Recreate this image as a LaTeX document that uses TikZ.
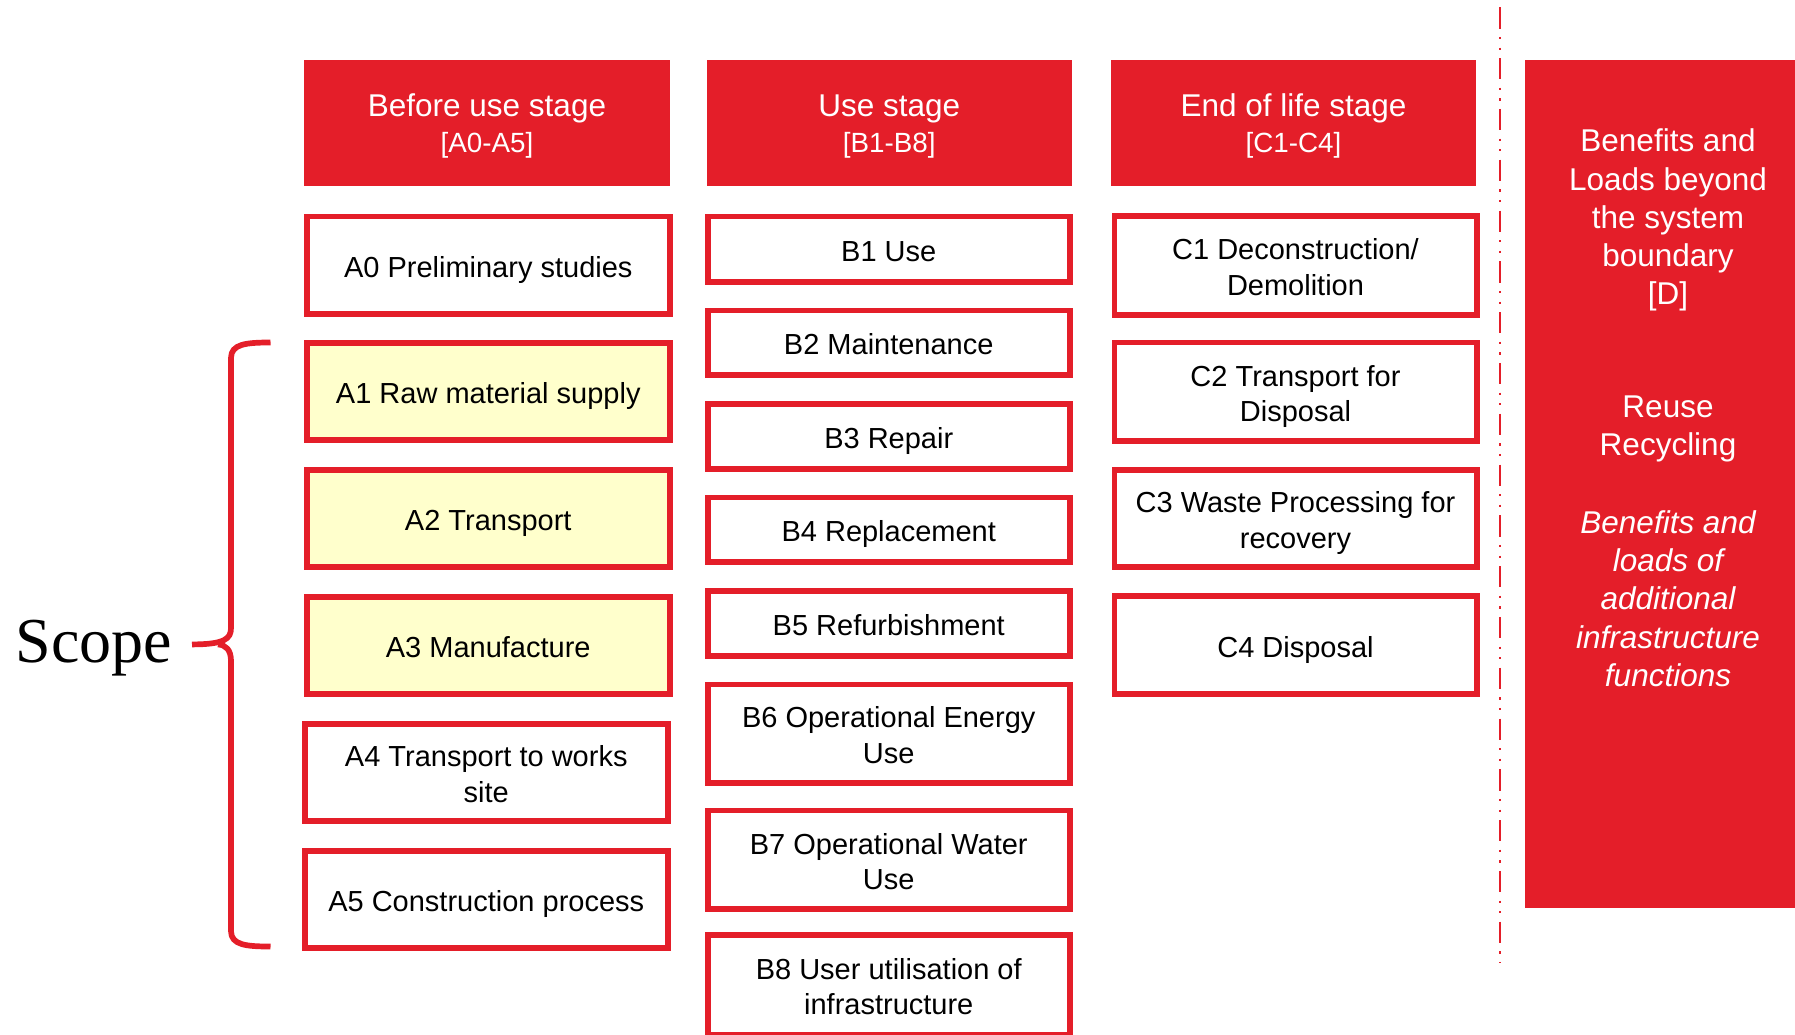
\documentclass[tikz,border=0pt]{standalone}
\usepackage{fontspec}
\setmainfont{Liberation Sans}
\newfontfamily\scopefont{Liberation Serif}
\definecolor{lcared}{RGB}{228,30,41}
\definecolor{lcayellow}{RGB}{255,255,204}
% fixed line struts so every label sits on the same baseline grid
\newcommand\headtopstrut{\rule{0pt}{30.1pt}}
\newcommand\itemtopstrut{\rule{0pt}{31.2pt}}
\newcommand\lowstrut{\rule[-7pt]{0pt}{7pt}}
\begin{document}
\begin{tikzpicture}[x=1pt,y=-1pt]
\tikzset{
  stagehead/.style={fill=lcared, draw=none, text=white, inner sep=0pt, align=center,
    minimum height=126.5pt, font={\fontsize{31.5}{35.4}\selectfont}},
  item/.style={draw=lcared, line width=5.7pt, fill=white, text=black, inner sep=0pt,
    align=center, font={\fontsize{29}{35.5}\selectfont},
    execute at begin node=\itemtopstrut, execute at end node=\lowstrut},
  inscope/.style={item, fill=lcayellow},
  acol/.style={minimum width=362.8pt},
  bcol/.style={minimum width=361.8pt},
  ccol/.style={minimum width=362.3pt},
  dtext/.style={text=white, inner sep=0pt, align=center, font={\fontsize{31.5}{38.3}\selectfont}},
  brace/.style={draw=lcared, line width=5.7pt, line join=round},
  boundary/.style={draw=lcared, line width=2.3pt,
    dash pattern=on 21.3pt off 8.3pt on 2.3pt off 8.3pt on 2.3pt off 8.3pt}
}
\useasboundingbox (0,0) rectangle (1795,1034);
\clip (0,0) rectangle (1795,1034);

% stage headers
\node[stagehead, minimum width=366pt] (hA) at (487,122.75)
  {\headtopstrut Before use stage\\{\fontsize{27.8}{35.4}\selectfont [A0-A5]\lowstrut}};
\node[stagehead, minimum width=364.5pt] (hB) at (889.25,122.75)
  {\headtopstrut Use stage\\{\fontsize{27.8}{35.4}\selectfont [B1-B8]\lowstrut}};
\node[stagehead, minimum width=365pt] (hC) at (1293.5,122.75)
  {\headtopstrut End of life stage\\{\fontsize{27.8}{35.4}\selectfont [C1-C4]\lowstrut}};

% before use stage modules
\node[item, acol, minimum height=97.3pt] (a0) at (488.25,265) {A0 Preliminary studies};
\node[inscope, acol, minimum height=97.3pt] (a1) at (488.25,391.5) {A1 Raw material supply};
\node[inscope, acol, minimum height=97.3pt] (a2) at (488.25,518.5) {A2 Transport};
\node[inscope, acol, minimum height=97.3pt] (a3) at (488.25,645.5) {A3 Manufacture};
\node[item, acol, minimum height=97.3pt] (a4) at (486.25,772.5)
  {\itemtopstrut A4 Transport to works\\site\lowstrut};
\node[item, acol, minimum height=97.3pt] (a5) at (486.25,899.5) {A5 Construction process};

% use stage modules
\node[item, bcol, minimum height=65.3pt] (b1) at (888.75,249) {B1 Use};
\node[item, bcol, minimum height=64.8pt] (b2) at (888.75,342.75) {B2 Maintenance};
\node[item, bcol, minimum height=65.3pt] (b3) at (888.75,436.5) {B3 Repair};
\node[item, bcol, minimum height=64.8pt] (b4) at (888.75,529.75) {B4 Replacement};
\node[item, bcol, minimum height=65.3pt] (b5) at (888.75,623.5) {B5 Refurbishment};
\node[item, bcol, minimum height=98.3pt] (b6) at (888.75,733.5)
  {\itemtopstrut B6 Operational Energy\\Use\lowstrut};
\node[item, bcol, minimum height=98.8pt] (b7) at (888.75,859.75)
  {\itemtopstrut B7 Operational Water\\Use\lowstrut};
\node[item, bcol, minimum height=100pt] (b8) at (888.75,984.85)
  {\itemtopstrut B8 User utilisation of\\infrastructure\lowstrut};

% end of life modules
\node[item, ccol, minimum height=99.3pt] (c1) at (1295.5,265.5)
  {\itemtopstrut C1 Deconstruction/\\Demolition\lowstrut};
\node[item, ccol, minimum height=98.8pt] (c2) at (1295.5,391.75)
  {\itemtopstrut C2 Transport for\\Disposal\lowstrut};
\node[item, ccol, minimum height=97.3pt] (c3) at (1295.5,518.5)
  {\itemtopstrut C3 Waste Processing for\\recovery\lowstrut};
\node[item, ccol, minimum height=98.3pt] (c4) at (1295.5,645) {C4 Disposal};

% system boundary
\coordinate (sepTop) at (1500.3,7.3);
\coordinate (sepBot) at (1500.3,962.5);
\draw[boundary] (sepTop) -- (sepBot);

% module D panel
\node[fill=lcared, inner sep=0pt, minimum width=275pt, minimum height=848pt, anchor=north west]
  (dpanel) at (1525,60) {};
\node[dtext] (d1) at (1668,220.2) {Benefits and\\Loads beyond\\the system\\boundary\\{[D]}};
\node[dtext] (d2) at (1668,429.2) {Reuse\\Recycling};
\node[dtext, font={\fontsize{31.5}{38.3}\selectfont\itshape}] (d3) at (1668,598.6)
  {Benefits and\\loads of\\additional\\infrastructure\\functions};

% scope brace
\node[font={\scopefont\fontsize{64}{70}\selectfont}, inner sep=0pt, anchor=base west]
  (scope) at (15.5,662.5) {Scope};
\draw[brace] (270.5,342.5) .. controls (246,342.5) and (231,344) .. (231,358)
  -- (231,628) .. controls (231,639) and (224,644.4) .. (192,644.4);
\draw[brace] (218,644.4) .. controls (226,645) and (231,650) .. (231,661)
  -- (231,931) .. controls (231,945) and (246,946.5) .. (270.5,946.5);
\end{tikzpicture}
\end{document}
